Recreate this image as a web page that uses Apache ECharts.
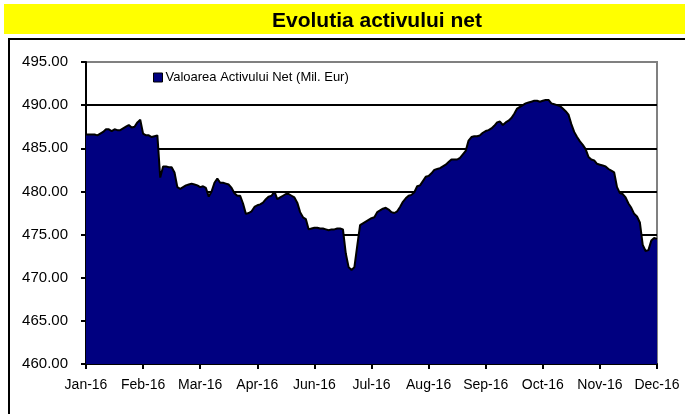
<!DOCTYPE html>
<html>
<head>
<meta charset="utf-8">
<script src="https://cdn.jsdelivr.net/npm/echarts@6/dist/echarts.min.js"></script>
<style>
  html, body { margin: 0; padding: 0; background: #fff; }
  #chart { width: 685px; height: 414px; }
</style>
</head>
<body>
<div id="chart"></div>
<script>
// valori, 20 de puncte intre doua etichete
const monthLabels = ['Jan-16', 'Feb-16', 'Mar-16', 'Apr-16', 'Jun-16', 'Jul-16', 'Aug-16', 'Sep-16', 'Oct-16', 'Nov-16', 'Dec-16']
const seriesName = 'Valoarea Activului Net (Mil. Eur)'
const navValues = [
  486.6, 486.6, 486.6, 486.6, 486.5, 486.7, 486.9, 487.2, 487.2, 487.0,
  487.2, 487.1, 487.1, 487.3, 487.5, 487.7, 487.4, 487.5, 488.0, 488.3,
  486.7, 486.5, 486.5, 486.3, 486.4, 486.5, 481.6, 482.9, 482.9, 482.8,
  482.8, 482.2, 480.5, 480.3, 480.5, 480.7, 480.8, 480.9, 480.8, 480.7,
  480.5, 480.6, 480.4, 479.4, 480.0, 481.0, 481.5, 481.0, 481.0, 480.9,
  480.8, 480.4, 479.8, 479.5, 479.5, 478.6, 477.4, 477.5, 477.7, 478.2,
  478.4, 478.5, 478.7, 479.1, 479.4, 479.5, 480.0, 479.1, 479.3, 479.5,
  479.7, 479.7, 479.5, 479.3, 478.7, 477.6, 477.0, 476.8, 475.6, 475.7,
  475.8, 475.8, 475.7, 475.7, 475.6, 475.5, 475.6, 475.6, 475.7, 475.7,
  475.6, 472.8, 471.2, 470.9, 471.2, 473.7, 476.1, 476.3, 476.5, 476.7,
  476.9, 477.0, 477.6, 477.8, 478.0, 478.1, 477.9, 477.6, 477.5, 477.7,
  478.2, 478.8, 479.2, 479.5, 479.6, 479.9, 480.6, 480.7, 481.2, 481.7,
  481.8, 482.1, 482.5, 482.6, 482.7, 482.9, 483.1, 483.4, 483.7, 483.7,
  483.7, 483.9, 484.3, 484.7, 485.9, 486.3, 486.4, 486.4, 486.5, 486.8,
  487.0, 487.1, 487.3, 487.6, 488.0, 488.1, 487.7, 488.0, 488.2, 488.5,
  489.0, 489.6, 489.8, 490.0, 490.2, 490.3, 490.4, 490.5, 490.5, 490.4,
  490.5, 490.6, 490.6, 490.2, 490.1, 490.0, 489.9, 489.6, 489.3, 488.9,
  487.8, 486.9, 486.3, 485.8, 485.4, 484.9, 484.0, 483.7, 483.6, 483.2,
  483.1, 483.0, 482.9, 482.6, 482.4, 482.2, 480.5, 479.8, 479.7, 479.3,
  478.6, 478.1, 477.4, 477.1, 476.4, 473.8, 473.1, 473.2, 474.3, 474.6,
  474.5
]

const step = 20
// axa de categorii: eticheta doar la fiecare al 20-lea punct
const categories = navValues.map((v, i) => (i % step === 0 ? monthLabels[i / step] : ''))

const chart = echarts.init(document.getElementById('chart'))

const labelFont = 'Liberation Sans, Arial, sans-serif'

chart.setOption({
  animation: false,
  backgroundColor: '#fff',
  title: {
    text: 'Evolutia activului net',
    left: 372,
    textAlign: 'center',
    top: 6,
    textStyle: { fontFamily: labelFont, fontWeight: 'bold', fontSize: 21, color: '#000' },
  },
  graphic: [
    { type: 'rect', z: -10, shape: { x: 4, y: 4, width: 700, height: 30 }, style: { fill: '#ffff00' } },
    { type: 'rect', z: -10, shape: { x: 9, y: 39, width: 700, height: 400 }, style: { fill: 'none', stroke: '#000', lineWidth: 2 } },
  ],
  legend: {
    left: 148,
    top: 66,
    itemWidth: 9,
    itemHeight: 9,
    itemGap: 4,
    data: [{ name: seriesName, icon: 'rect' }],
    itemStyle: { borderColor: '#000', borderWidth: 1 },
    textStyle: { fontFamily: labelFont, fontSize: 13, color: '#000', padding: [0, 0, 0, -2] },
  },
  grid: {
    left: 86,
    right: 28,
    top: 62,
    bottom: 50,
    show: true,
    borderColor: '#808080',
    borderWidth: 2,
  },
  xAxis: {
    type: 'category',
    data: categories,
    boundaryGap: false,
    axisLine: { lineStyle: { color: '#000', width: 2 } },
    axisTick: { interval: step - 1, length: 5, lineStyle: { color: '#000', width: 2 } },
    axisLabel: { interval: step - 1, margin: 14, fontFamily: labelFont, fontSize: 14, color: '#000' },
    splitLine: { show: false },
  },
  yAxis: {
    type: 'value',
    min: 460,
    max: 495,
    interval: 5,
    axisLine: { show: true, lineStyle: { color: '#000', width: 2 } },
    axisTick: { show: true, length: 5, lineStyle: { color: '#000', width: 2 } },
    axisLabel: {
      margin: 18,
      fontFamily: labelFont,
      fontSize: 15,
      color: '#000',
      formatter: (v) => v.toFixed(2),
    },
    splitLine: {
      lineStyle: {
        color: ['#000', '#000', '#000', '#000', '#000', '#000', '#000', '#808080'],
        width: 2,
      },
    },
  },
  series: [
    {
      name: seriesName,
      type: 'line',
      data: navValues,
      color: '#000080',
      symbol: 'none',
      lineStyle: { color: '#000', width: 2 },
      areaStyle: { color: '#000080', opacity: 1 },
    },
  ],
})
</script>
</body>
</html>
